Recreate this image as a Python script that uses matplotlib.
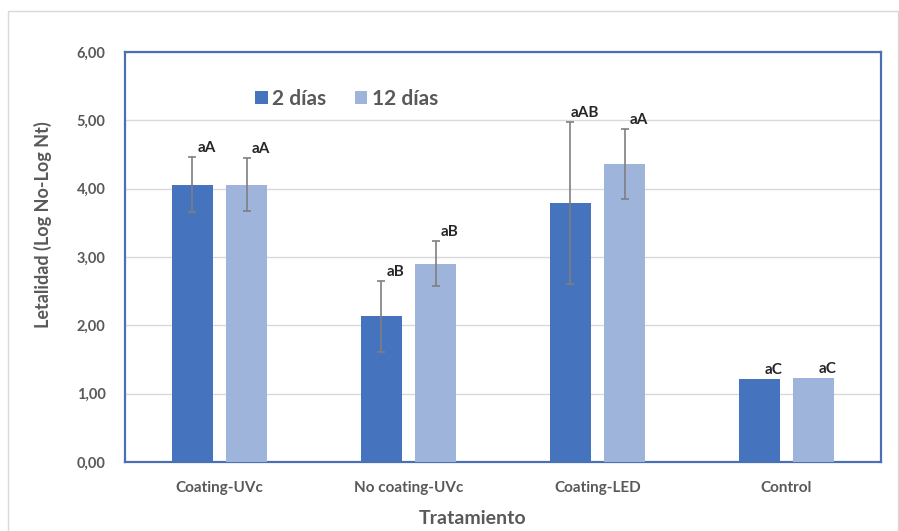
import matplotlib.pyplot as plt
import numpy as np
from matplotlib.patches import Rectangle

plt.rcParams['font.family'] = ['Lato', 'DejaVu Sans']

categories = ['Coating-UVc', 'No coating-UVc', 'Coating-LED', 'Control']
dias2 = [4.06, 2.13, 3.79, 1.22]
dias12 = [4.06, 2.90, 4.36, 1.23]
err2 = [0.40, 0.52, 1.19, 0.0]
err12 = [0.39, 0.33, 0.51, 0.0]
letras2 = ['aA', 'aB', 'aAB', 'aC']
letras12 = ['aA', 'aB', 'aA', 'aC']
yticks = [0, 1, 2, 3, 4, 5, 6]

c_dark = '#4673BE'
c_light = '#9FB4DB'
gris = '#595959'

fig = plt.figure(figsize=(8.99, 5.31), dpi=100)
ax = fig.add_axes([0.139, 0.130, 0.841, 0.772])

# borde del area del grafico
fig.patches.append(Rectangle((0.009, -0.01), 0.99, 0.99, transform=fig.transFigure,
                             fill=False, edgecolor='#D9D9D9', linewidth=1))

x = np.arange(len(categories))
w = 0.217
off = 0.1435

ax.bar(x - off, dias2, w, color=c_dark, label='2 días', zorder=3)
ax.bar(x + off, dias12, w, color=c_light, label='12 días', zorder=3)

for xi, v, e in zip(x - off, dias2, err2):
    if e > 0:
        ax.errorbar(xi, v, yerr=e, fmt='none', ecolor='#7F7F7F', elinewidth=1.2,
                    capsize=3, capthick=1.2, zorder=4)
for xi, v, e in zip(x + off, dias12, err12):
    if e > 0:
        ax.errorbar(xi, v, yerr=e, fmt='none', ecolor='#7F7F7F', elinewidth=1.2,
                    capsize=3, capthick=1.2, zorder=4)

# letras de significancia
for xi, v, e, t in zip(x - off, dias2, err2, letras2):
    ax.text(xi + 0.075, v + e + 0.03, t, ha='center', va='bottom', fontsize=11,
            fontweight='bold', color='#262626', zorder=5)
for xi, v, e, t in zip(x + off, dias12, err12, letras12):
    ax.text(xi + 0.075, v + e + 0.03, t, ha='center', va='bottom', fontsize=11,
            fontweight='bold', color='#262626', zorder=5)

ax.set_xlim(-0.5, 3.5)
ax.set_ylim(0, 6)
ax.set_yticks(yticks)
ax.set_yticklabels([f'{t:.2f}'.replace('.', ',') for t in yticks])
ax.set_xticks(x)
ax.set_xticklabels(categories)
ax.tick_params(axis='both', length=0, colors=gris, labelsize=10.5)
ax.tick_params(axis='y', pad=14)
ax.tick_params(axis='x', pad=14, labelsize=11)
for lab in ax.get_yticklabels():
    lab.set_fontweight('bold')
for lab in ax.get_xticklabels():
    lab.set_fontweight('bold')

ax.grid(axis='y', color='#D9D9D9', linewidth=1, zorder=0)
for s in ax.spines.values():
    s.set_color('#4A6FB5')
    s.set_linewidth(1.6)

ax.set_ylabel('Letalidad (Log No-Log Nt)', fontsize=13, fontweight='bold', color=gris)
ax.yaxis.set_label_coords(-0.097, 0.58)
ax.set_xlabel('Tratamiento', fontsize=14, fontweight='bold', color=gris)
ax.xaxis.set_label_coords(0.46, -0.118)

leg = ax.legend(loc='center left', bbox_to_anchor=(0.172, 0.885), ncol=2, frameon=False,
                fontsize=15, handlelength=0.6, handleheight=0.6, handletextpad=0.2,
                columnspacing=1.4, borderpad=0, borderaxespad=0)
for t in leg.get_texts():
    t.set_color(gris)
    t.set_fontweight('bold')

plt.savefig('out.png', dpi=100)
